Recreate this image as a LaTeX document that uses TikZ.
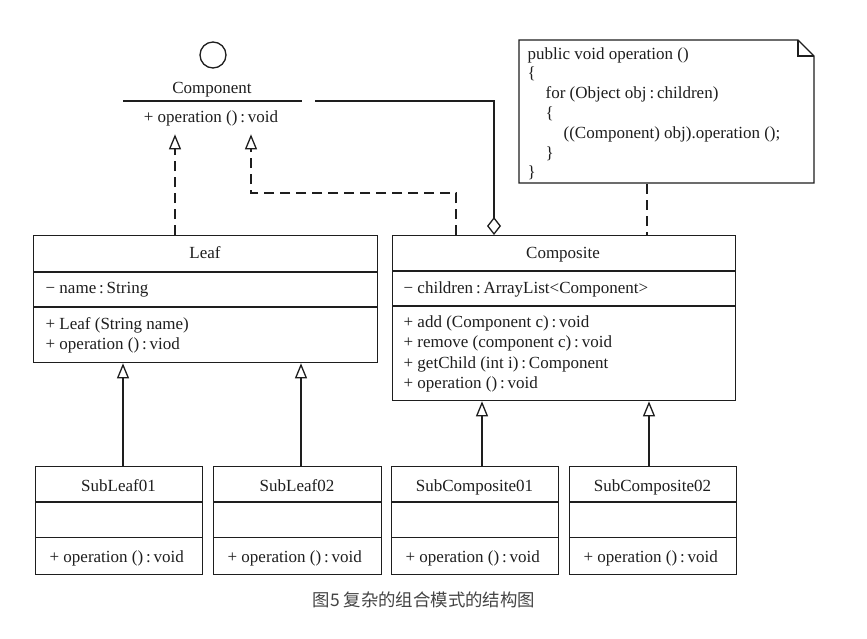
\documentclass[tikz,border=0pt]{standalone}
\usepackage{fontspec}
\setmainfont{Liberation Serif}
\newfontfamily\cjk{Noto Sans CJK SC}
\usetikzlibrary{arrows.meta}
\definecolor{ink}{HTML}{1E1E1E}
\definecolor{capgray}{HTML}{444444}
\newcommand{\umlsub}[4]{%
  \node[box,minimum width=#3pt,minimum height=108pt] (#1) at (#2,466) {};
  \draw (#1.west |- 0,502) -- (#1.east |- 0,502);
  \draw (#1.west |- 0,537.5) -- (#1.east |- 0,537.5);
  \node[txt] (#1T) at (#2+#3/2,491) {#4};
  \node[ltxt] (#1M) at (#2+14,562) {+ operation ()\,:\,void};
}
\begin{document}
\begin{tikzpicture}[x=1pt,y=-1pt,line width=1.3pt,draw=ink,
  box/.style={draw=ink,rectangle,inner sep=0pt,anchor=north west},
  ghost/.style={rectangle,inner sep=0pt,anchor=north west},
  txt/.style={font=\fontsize{17}{20}\selectfont,inner sep=0pt,text=ink,anchor=base},
  ltxt/.style={txt,anchor=base west},
  realize/.style={dash pattern=on 10pt off 6pt,-{Triangle[open,length=15pt,width=12pt,line width=1.3pt]}},
  inherit/.style={-{Triangle[open,length=15pt,width=12pt,line width=1.3pt]}},
  aggr/.style={-{Diamond[open,length=18pt,width=14pt,line width=1.3pt]}},
  notelink/.style={dash pattern=on 10pt off 6pt}]
\useasboundingbox (0,0) rectangle (867,638);
\fill[white] (0,0) rectangle (867,638);

% column coordinates
\coordinate (x123) at (123,0);
\coordinate (x175) at (175,0);
\coordinate (x251) at (251,0);
\coordinate (x301) at (301,0);
\coordinate (x456) at (456,0);
\coordinate (x482) at (482,0);
\coordinate (x494) at (494,0);
\coordinate (x647) at (647,0);
\coordinate (x649) at (649,0);

% Component interface
\node[draw=ink,circle,minimum size=26pt,inner sep=0pt] (ball) at (213,55) {};
\node[txt] (compT) at (212,93) {Component};
\node[ghost,minimum width=178pt,minimum height=32pt] (comp) at (123,101) {};
\draw (comp.north west) -- (comp.north east);
\node[txt] (compM) at (211,122) {+ operation ()\,:\,void};
\coordinate (aggstart) at (315,101);
\coordinate (bend) at (251,193);

% Leaf
\node[box,minimum width=344pt,minimum height=127pt] (leaf) at (33,235) {};
\draw (leaf.west |- 0,272) -- (leaf.east |- 0,272);
\draw (leaf.west |- 0,307) -- (leaf.east |- 0,307);
\node[txt] (leafT) at (205,258) {Leaf};
\node[ltxt] (leafA) at (45,293) {− name\,:\,String};
\node[ltxt] (leafM1) at (45,329) {+ Leaf (String name)};
\node[ltxt] (leafM2) at (45,349.5) {+ operation ()\,:\,viod};

% Composite
\node[box,minimum width=343pt,minimum height=165pt] (cmp) at (392,235) {};
\draw (cmp.west |- 0,271) -- (cmp.east |- 0,271);
\draw (cmp.west |- 0,306) -- (cmp.east |- 0,306);
\node[txt] (cmpT) at (563,258) {Composite};
\node[ltxt] (cmpA) at (403,293) {− children\,:\,ArrayList<Component>};
\node[ltxt] (cmpM1) at (403,327) {+ add (Component c)\,:\,void};
\node[ltxt] (cmpM2) at (403,347.5) {+ remove (component c)\,:\,void};
\node[ltxt] (cmpM3) at (403,368) {+ getChild (int i)\,:\,Component};
\node[ltxt] (cmpM4) at (403,388.5) {+ operation ()\,:\,void};

% Note
\coordinate (nNW) at (519,40);
\coordinate (nF1) at (798,40);
\coordinate (nF2) at (814,56);
\coordinate (nSE) at (814,183);
\coordinate (nSW) at (519,183);
\draw (nNW) -- (nF1) -- (nF2) -- (nSE) -- (nSW) -- cycle;
\draw (nF1) -- (798,56) -- (nF2);
\node[ghost,minimum width=295pt,minimum height=143pt] (note) at (519,40) {};
\node[ltxt] (n1) at (527,59) {public void operation ()};
\node[ltxt] (n2) at (527,78.8) {\{};
\node[ltxt] (n3) at (545,98.6) {for (Object obj\,:\,children)};
\node[ltxt] (n4) at (545,118.4) {\{};
\node[ltxt] (n5) at (563,138.2) {((Component) obj).operation ();};
\node[ltxt] (n6) at (545,158) {\}};
\node[ltxt] (n7) at (527,177.8) {\}};

% Sub classes
\umlsub{sl1}{35}{167}{SubLeaf01}
\umlsub{sl2}{213}{168}{SubLeaf02}
\umlsub{sc1}{391}{167}{SubComposite01}
\umlsub{sc2}{569}{167}{SubComposite02}

% Connectors
\draw[realize] (leaf.north -| x175) -- (comp.south -| x175);
\draw[realize] (cmp.north -| x456) |- (bend) -- (comp.south -| bend);
\draw[aggr] (aggstart) -| (cmp.north -| x494);
\draw[notelink] (note.south -| x647) -- (cmp.north -| x647);
\draw[inherit] (sl1.north -| x123) -- (leaf.south -| x123);
\draw[inherit] (sl2.north -| x301) -- (leaf.south -| x301);
\draw[inherit] (sc1.north -| x482) -- (cmp.south -| x482);
\draw[inherit] (sc2.north -| x649) -- (cmp.south -| x649);

% Caption
\node[font=\cjk\fontsize{17.4}{20}\selectfont,text=capgray,inner sep=0pt] (cap) at (424,600) {图5 复杂的组合模式的结构图};
\end{tikzpicture}
\end{document}
